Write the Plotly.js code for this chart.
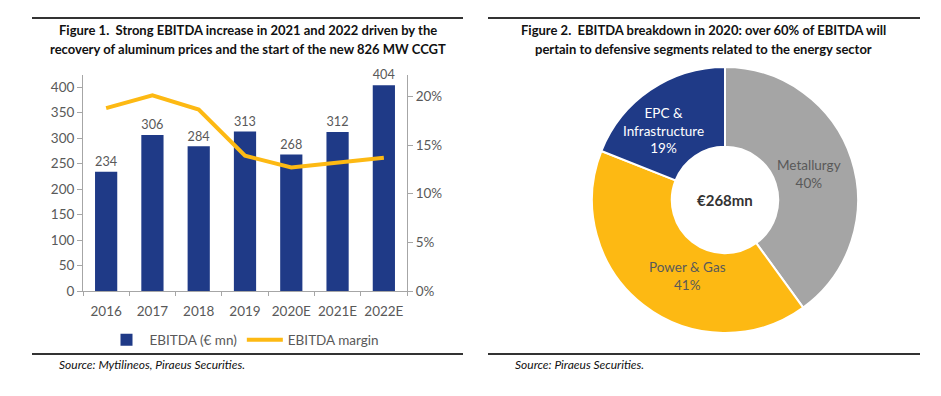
<!DOCTYPE html>
<html>
<head>
<meta charset="utf-8">
<script src="https://cdn.plot.ly/plotly-3.0.1.min.js"></script>
<style>html,body{margin:0;padding:0;background:#fff;}#chart{width:941px;height:396px;}</style>
</head>
<body>
<div id="chart"></div>
<script>
// ---- Data ----
const years = ["2016", "2017", "2018", "2019", "2020E", "2021E", "2022E"];
const ebitda = [234, 306, 284, 313, 268, 312, 404];
const ebitdaMargin = [0.188, 0.201, 0.1865, 0.139, 0.127, 0.132, 0.137];
const segments = ["Metallurgy", "Power & Gas", "EPC & Infrastructure"];
const segmentLabels = ["Metallurgy", "Power & Gas", "EPC &<br>Infrastructure"];
const segmentShare = [40, 41, 19];
const totalLabel = "€268mn";

const W = 941, H = 396;
const px = x => x / W;
const py = y => (H - y) / H;
const FONT = "Lato, 'Open Sans', sans-serif";
const NAVY = "#1F3A87", GOLD = "#FDB913", GREY = "#A5A5A5", TXT = "#595959";
const segTextColor = [TXT, TXT, "#ffffff"];
const segLabelShift = [[-5, -3], [20, -2], [-9, -8]]; // label placement nudges (px)

// pie geometry
const PC = {x: 725, y: 200}, PR = 133, HOLE = 0.4;

const traces = [
  {
    type: "bar", x: years, y: ebitda, name: "EBITDA (€ mn)",
    marker: {color: NAVY}, width: 0.48,
    text: ebitda.map(String), textposition: "outside",
    textfont: {size: 13.5, color: TXT, family: FONT}, cliponaxis: false,
    xaxis: "x", yaxis: "y"
  },
  {
    type: "scatter", mode: "lines", x: years, y: ebitdaMargin, name: "EBITDA margin",
    line: {color: GOLD, width: 4}, xaxis: "x", yaxis: "y2"
  },
  {
    type: "pie", labels: segments, values: segmentShare,
    textinfo: "none",
    hole: HOLE, sort: false, direction: "clockwise", rotation: 0,
    marker: {colors: [GREY, GOLD, NAVY], line: {color: "#fff", width: 2}},
    domain: {x: [px(PC.x - PR), px(PC.x + PR)], y: [py(PC.y + PR), py(PC.y - PR)]},
    showlegend: false
  }
];

// slice labels placed at the middle of each slice (angles from the data)
const total = segmentShare.reduce((a, b) => a + b, 0);
const labelR = PR * (1 + HOLE) / 2;
let cum = 0;
const sliceAnnots = segmentShare.map((v, i) => {
  const mid = (cum + v / 2) / total * 2 * Math.PI;
  cum += v;
  const x = PC.x + labelR * Math.sin(mid);
  const y = PC.y - labelR * Math.cos(mid);
  return {xref: "paper", yref: "paper", x: px(x), y: py(y), xanchor: "center", yanchor: "middle",
          xshift: segLabelShift[i][0], yshift: segLabelShift[i][1],
          showarrow: false, text: segmentLabels[i] + "<br>" + v + "%",
          font: {size: 13.5, color: segTextColor[i], family: FONT}};
});

const axisLine = "#A6A6A6";
const layout = {
  width: W, height: H,
  margin: {l: 0, r: 0, t: 0, b: 0},
  paper_bgcolor: "#fff", plot_bgcolor: "#fff",
  font: {family: FONT, color: TXT},
  showlegend: true,
  legend: {orientation: "h", x: px(244), xanchor: "center", y: py(340), yanchor: "middle",
           font: {size: 13.5, color: TXT, family: FONT}, bgcolor: "rgba(0,0,0,0)", itemwidth: 36},
  xaxis: {domain: [px(83), px(407)], type: "category", showline: true, linecolor: axisLine,
          ticks: "outside", tickson: "boundaries", ticklen: 4, tickcolor: axisLine, tickangle: 0,
          ticklabelstandoff: 8,
          tickfont: {size: 13.5, color: TXT, family: FONT}, showgrid: false, anchor: "y"},
  yaxis: {domain: [py(291), py(75)], range: [0, 424], dtick: 50, showline: true, linecolor: axisLine,
          ticks: "outside", ticklen: 5, tickcolor: axisLine, showgrid: false, zeroline: false,
          tickfont: {size: 13.5, color: TXT, family: FONT}, anchor: "x"},
  yaxis2: {overlaying: "y", side: "right", range: [0, 0.222], dtick: 0.05, tickformat: ".0%",
           showline: true, linecolor: axisLine, ticks: "outside", ticklen: 5, tickcolor: axisLine,
           showgrid: false, zeroline: false, tickfont: {size: 13.5, color: TXT, family: FONT}, anchor: "x"},
  shapes: [
    {type: "line", xref: "paper", yref: "paper", x0: px(32), x1: px(463), y0: py(18), y1: py(18), line: {color: "#333", width: 2}},
    {type: "line", xref: "paper", yref: "paper", x0: px(32), x1: px(463), y0: py(354), y1: py(354), line: {color: "#333", width: 2}},
    {type: "line", xref: "paper", yref: "paper", x0: px(488), x1: px(920), y0: py(18), y1: py(18), line: {color: "#333", width: 2}},
    {type: "line", xref: "paper", yref: "paper", x0: px(488), x1: px(920), y0: py(354), y1: py(354), line: {color: "#333", width: 2}}
  ],
  annotations: [
    {xref: "paper", yref: "paper", x: px(248), y: py(30), xanchor: "center", yanchor: "middle", showarrow: false,
     text: "<b>Figure 1.  Strong EBITDA increase in 2021 and 2022 driven by the</b>", font: {size: 13, color: "#111", family: FONT}},
    {xref: "paper", yref: "paper", x: px(248), y: py(49), xanchor: "center", yanchor: "middle", showarrow: false,
     text: "<b>recovery of aluminum prices and the start of the new 826 MW CCGT</b>", font: {size: 13, color: "#111", family: FONT}},
    {xref: "paper", yref: "paper", x: px(703), y: py(30), xanchor: "center", yanchor: "middle", showarrow: false,
     text: "<b>Figure 2.  EBITDA breakdown in 2020: over 60% of EBITDA will</b>", font: {size: 13, color: "#111", family: FONT}},
    {xref: "paper", yref: "paper", x: px(703), y: py(49), xanchor: "center", yanchor: "middle", showarrow: false,
     text: "<b>pertain to defensive segments related to the energy sector</b>", font: {size: 13, color: "#111", family: FONT}},
    {xref: "paper", yref: "paper", x: px(57), y: py(364), xanchor: "left", yanchor: "middle", showarrow: false,
     text: "<i>Source: Mytilineos, Piraeus Securities.</i>", font: {size: 12, color: "#111", family: FONT}},
    {xref: "paper", yref: "paper", x: px(513), y: py(364), xanchor: "left", yanchor: "middle", showarrow: false,
     text: "<i>Source: Piraeus Securities.</i>", font: {size: 12, color: "#111", family: FONT}},
    {xref: "paper", yref: "paper", x: px(PC.x), y: py(PC.y), xanchor: "center", yanchor: "middle", showarrow: false,
     text: "<b>" + totalLabel + "</b>", font: {size: 15, color: "#333", family: FONT}}
  ].concat(sliceAnnots)
};

Plotly.newPlot("chart", traces, layout, {displayModeBar: false, staticPlot: true});
</script>
</body>
</html>
